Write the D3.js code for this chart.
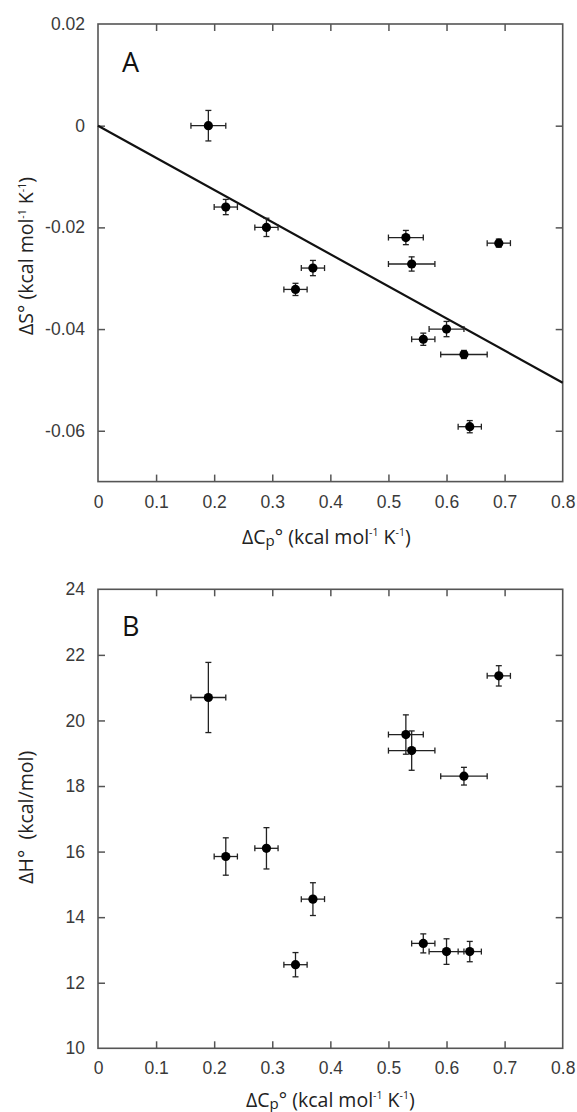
<!DOCTYPE html>
<meta charset="utf-8">
<style>
body { margin: 0; background: #fff; }
.tick text { font-family: "Liberation Sans", Arial, sans-serif; font-size: 17.5px; fill: #3a3a3a; }
.tick line { stroke: #555; stroke-width: 1.5; }
.frame { fill: none; stroke: #555; stroke-width: 1.6; }
.lab { font-family: "Open Sans", "Liberation Sans", sans-serif; font-size: 19.5px; fill: #222; }
.panel { font-family: "Open Sans", "Liberation Sans", sans-serif; font-size: 27px; fill: #111; }
.err line { stroke: #222; stroke-width: 1.3; }
</style>
<body>
<script src="https://cdn.jsdelivr.net/npm/d3@7"></script>
<script>

// values, same order in both panels
var cp     = [0.19, 0.22, 0.29, 0.34, 0.37, 0.53, 0.54, 0.56, 0.60, 0.63, 0.64, 0.69];
var cpErr  = [0.03, 0.02, 0.02, 0.02, 0.02, 0.03, 0.04, 0.02, 0.03, 0.04, 0.02, 0.02];
var dS     = [0.0, -0.016, -0.020, -0.0322, -0.028, -0.022, -0.0272, -0.042, -0.040, -0.045, -0.0592, -0.0231];
var dSErr  = [0.003, 0.0015, 0.0018, 0.0012, 0.0015, 0.0014, 0.0014, 0.0012, 0.0015, 0.0008, 0.0012, 0.0008];
var dH     = [20.7, 15.85, 16.1, 12.55, 14.55, 19.57, 19.08, 13.2, 12.95, 18.3, 12.95, 21.36];
var dHErr  = [1.07, 0.57, 0.63, 0.37, 0.5, 0.6, 0.6, 0.29, 0.39, 0.27, 0.31, 0.31];

var fitSlope = -0.0632; // line through origin, panel A

var xTicks  = [0, 0.1, 0.2, 0.3, 0.4, 0.5, 0.6, 0.7, 0.8];
var yTicksA = [0.02, 0, -0.02, -0.04, -0.06];
var yTicksB = [24, 22, 20, 18, 16, 14, 12, 10];

var W = 577, H = 1112;
var left = 98, plotW = 464.7;

var svg = d3.select("body").append("svg")
    .attr("width", W)
    .attr("height", H);

svg.append("rect").attr("width", W).attr("height", H).attr("fill", "#fff");

function sup(t, s) {
  t.append("tspan").attr("font-size", "10.5px").attr("dy", -7.5).text(s);
}

function panel(opts) {
  var g = svg.append("g")
      .attr("transform", "translate(" + left + "," + opts.top + ")");

  var x = d3.scaleLinear().domain([0, 0.8]).range([0, plotW]);
  var y = d3.scaleLinear().domain(opts.yDomain).range([opts.h, 0]);

  var inner = function(v) { return v > 0 && v < 0.8; };
  var innerY = function(v) { return v > opts.yDomain[0] && v < opts.yDomain[1]; };

  // bottom and left carry the labels
  g.append("g")
      .attr("transform", "translate(0," + opts.h + ")")
      .call(d3.axisBottom(x).tickValues(xTicks).tickSizeInner(-7).tickSizeOuter(0)
        .tickPadding(opts.xPad).tickFormat(function(d) { return d === 0 ? "0" : d3.format(".1f")(d); }))
      .call(function(a) { a.select(".domain").remove(); })
      .call(function(a) { a.selectAll(".tick").filter(function(d) { return !inner(d); }).select("line").remove(); });

  g.append("g")
      .call(d3.axisLeft(y).tickValues(opts.yTicks).tickSizeInner(-7).tickSizeOuter(0)
        .tickPadding(13).tickFormat(opts.fmt))
      .call(function(a) { a.select(".domain").remove(); })
      .call(function(a) { a.selectAll(".tick").filter(function(d) { return !innerY(d); }).select("line").remove(); });

  g.append("g")
      .call(d3.axisTop(x).tickValues(xTicks.filter(inner)).tickSizeInner(-7).tickSizeOuter(0).tickFormat(""))
      .call(function(a) { a.select(".domain").remove(); });

  g.append("g")
      .attr("transform", "translate(" + plotW + ",0)")
      .call(d3.axisRight(y).tickValues(opts.yTicks.filter(innerY)).tickSizeInner(-7).tickSizeOuter(0).tickFormat(""))
      .call(function(a) { a.select(".domain").remove(); });

  g.append("rect").attr("class", "frame")
      .attr("width", plotW).attr("height", opts.h);

  if (opts.fit) {
    g.append("line")
        .attr("x1", x(0)).attr("y1", y(0))
        .attr("x2", x(0.8)).attr("y2", y(0.8 * opts.fit))
        .attr("stroke", "#111").attr("stroke-width", 2.2);
  }

  var pts = cp.map(function(c, i) {
    return { x: c, xe: cpErr[i], y: opts.vals[i], ye: opts.errs[i] };
  });

  var cap = 3;
  var e = g.append("g").attr("class", "err")
    .selectAll("g").data(pts).enter().append("g");

  e.append("line")
      .attr("x1", function(d) { return x(d.x - d.xe); })
      .attr("x2", function(d) { return x(d.x + d.xe); })
      .attr("y1", function(d) { return y(d.y); })
      .attr("y2", function(d) { return y(d.y); });
  e.append("line")
      .attr("x1", function(d) { return x(d.x); })
      .attr("x2", function(d) { return x(d.x); })
      .attr("y1", function(d) { return y(d.y - d.ye); })
      .attr("y2", function(d) { return y(d.y + d.ye); });
  [-1, 1].forEach(function(s) {
    e.append("line")
        .attr("x1", function(d) { return x(d.x + s * d.xe); })
        .attr("x2", function(d) { return x(d.x + s * d.xe); })
        .attr("y1", function(d) { return y(d.y) - cap; })
        .attr("y2", function(d) { return y(d.y) + cap; });
    e.append("line")
        .attr("x1", function(d) { return x(d.x) - cap; })
        .attr("x2", function(d) { return x(d.x) + cap; })
        .attr("y1", function(d) { return y(d.y + s * d.ye); })
        .attr("y2", function(d) { return y(d.y + s * d.ye); });
  });

  g.append("g").selectAll("circle").data(pts).enter().append("circle")
      .attr("cx", function(d) { return x(d.x); })
      .attr("cy", function(d) { return y(d.y); })
      .attr("r", 4.6)
      .attr("fill", "#000");

  g.append("text").attr("class", "panel")
      .attr("x", 24).attr("y", opts.letterY)
      .text(opts.letter);

  // x label: ΔCp° (kcal mol-1 K-1)
  var xl = g.append("text").attr("class", "lab")
      .attr("x", plotW / 2 + opts.xLabDx).attr("y", opts.h + opts.xLabY)
      .attr("text-anchor", "middle");
  xl.append("tspan").text("ΔC");
  xl.append("tspan").attr("font-size", "15px").attr("dy", 2).text("p");
  xl.append("tspan").attr("dy", -2).text("° (kcal mol");
  sup(xl, "-1");
  xl.append("tspan").attr("dy", 7.5).text(" K");
  sup(xl, "-1");
  xl.append("tspan").attr("dy", 7.5).text(")");

  var yl = g.append("text").attr("class", "lab")
      .attr("transform", "translate(" + (-left + 33) + "," + opts.yLabC + ") rotate(-90)")
      .attr("text-anchor", "middle");
  opts.yLabel(yl);
}

panel({
  top: 24, h: 457.6, yDomain: [-0.07, 0.02], yTicks: yTicksA,
  fmt: function(d) { return d === 0 ? "0" : d3.format(".2f")(d).replace("−", "-"); },
  vals: dS, errs: dSErr, fit: fitSlope, letter: "A", letterY: 48,
  xPad: 14, xLabY: 62, xLabDx: -4, yLabC: 232,
  yLabel: function(t) {
    t.append("tspan").text("ΔS° (kcal mol");
    sup(t, "-1");
    t.append("tspan").attr("dy", 7.5).text(" K");
    sup(t, "-1");
    t.append("tspan").attr("dy", 7.5).text(")");
  }
});

panel({
  top: 589.3, h: 459, yDomain: [10, 24], yTicks: yTicksB,
  fmt: d3.format("d"),
  vals: dH, errs: dHErr, fit: null, letter: "B", letterY: 47,
  xPad: 13, xLabY: 58.5, xLabDx: 0, yLabC: 228,
  yLabel: function(t) {
    t.append("tspan").text("ΔH°\u00a0 (kcal/mol)");
  }
});

</script>
</body>
